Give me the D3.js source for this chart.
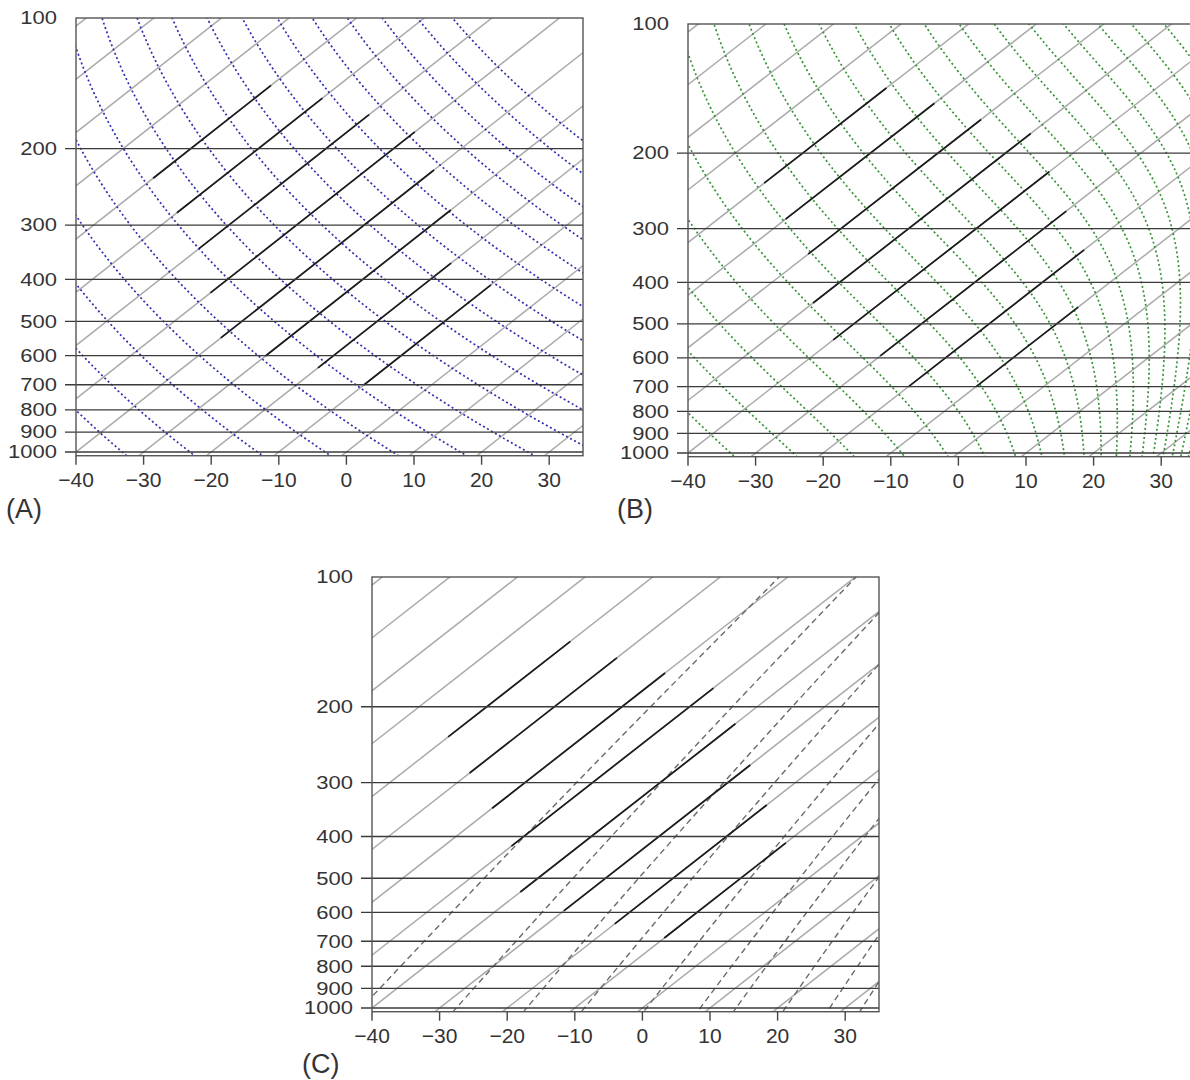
<!DOCTYPE html>
<html>
<head>
<meta charset="utf-8">
<script src="https://cdn.jsdelivr.net/npm/d3@7"></script>
<style>
  body { margin: 0; background: #fff; }
  text { font-family: "Liberation Sans", Arial, sans-serif; fill: #333; }
</style>
</head>
<body>
<svg id="chart" width="1190" height="1080"></svg>
<script>
// ---- chart data ----
var pressureLevels = [100, 200, 300, 400, 500, 600, 700, 800, 900, 1000];
var tempTicks = [-40, -30, -20, -10, 0, 10, 20, 30];
var isothermTemps = [-140, -130, -120, -110, -100, -90, -80, -70, -60, -50, -40, -30, -20, -10, 0, 10, 20, 30];
// dry adiabats, potential temperature (K)
var dryThetas = [240, 250, 260, 270, 280, 290, 300, 310, 320, 330, 340, 350, 360, 370, 380, 390, 400];
// saturated adiabats, labelled by theta reached aloft (K)
var moistThetas = [240, 250, 260, 270, 280, 290, 300, 310, 320, 330, 340, 350, 360, 370, 380, 390, 400, 410, 420, 430, 440, 450];
// saturation mixing ratio lines (g/kg)
var mixRatios = [0.1, 0.4, 1, 2, 4, 7, 10, 16, 24, 32];
// highlighted isotherm segments: temperature, lower and upper pressure (hPa) per panel
var darkTemps = [-80, -70, -60, -50, -40, -30, -20, -10];
var darkBottomA = [234, 281, 340, 430, 546, 601, 640, 701];
var darkTopA = [143, 153, 167, 183, 224, 277, 367, 412];
var darkBottomB = [235, 285, 344, 447, 545, 594, 700, 700];
var darkTopB = [141, 153, 167, 180, 221, 273, 336, 457];
var darkBottomC = [235, 285, 344, 421, 538, 595, 638, 688];
var darkTopC = [141, 154, 167, 181, 219, 273, 338, 414];

var panelNames = ["(A)", "(B)", "(C)"];
var panelKinds = ["dry", "moist", "mix"];
var panelBottoms = [darkBottomA, darkBottomB, darkBottomC];
var panelTops = [darkTopA, darkTopB, darkTopC];

// ---- layout ----
var layout = [
  { left: 76, right: 583, top: 18, y1000: 452, labelX: 6, labelY: 518 },
  { left: 688, right: 1195, top: 24, y1000: 453, labelX: 617, labelY: 518 },
  { left: 372, right: 879, top: 577, y1000: 1008, labelX: 302, labelY: 1073 }
];
var skew = 35.4;       // deg C shift per unit of ln(p)
var pBottom = 1020;

// constants
var Rd = 287.04, cp = 1005.7, Lv = 2.501e6, eps = 0.622;

function satVap(Tk) {
    return 6.112 * Math.exp(17.67 * (Tk - 273.15) / (Tk - 29.65));
}

var samplePs = [];
for (var k = 0; k <= 160; k++) {
    samplePs.push(85 * Math.pow(1100 / 85, k / 160));
}

function dryCurve(theta) {
    return samplePs.map(function (p) { return [theta * Math.pow(p / 1000, Rd / cp) - 273.15, p]; });
}

function moistRate(T, lnp) {
    var p = Math.exp(lnp);
    var es = satVap(T);
    var rs = eps * es / (p - es);
    return (Rd * T + Lv * rs) / (cp + Lv * Lv * rs * eps / (Rd * T * T));
}

function moistCurve(theta) {
    var lnp = Math.log(20), n = 700, h = (Math.log(1100) - lnp) / n;
    var T = theta * Math.pow(20 / 1000, Rd / cp);
    var pts = [];
    for (var k = 0; k <= n; k++) {
        var p = Math.exp(lnp);
        if (p >= 85) pts.push([T - 273.15, p]);
        if (k === n) break;
        var k1 = moistRate(T, lnp);
        var k2 = moistRate(T + h / 2 * k1, lnp + h / 2);
        var k3 = moistRate(T + h / 2 * k2, lnp + h / 2);
        var k4 = moistRate(T + h * k3, lnp + h);
        T += h / 6 * (k1 + 2 * k2 + 2 * k3 + k4);
        lnp += h;
    }
    return pts;
}

function mixCurve(w) {
    var r = w / 1000;
    return samplePs.map(function (p) {
        var es = r * p / (eps + r);
        var L = Math.log(es / 6.112);
        return [243.5 * L / (17.67 - L), p];
    });
}

var svg = d3.select("#chart");

layout.forEach(function (P, i) {
    var x = d3.scaleLinear().domain([-40, 35]).range([P.left, P.right]);
    var y = d3.scaleLog().domain([100, 1000]).range([P.top, P.y1000]);
    var yBot = y(pBottom);
    function sx(T, p) { return x(T + skew * Math.log(1000 / p)); }
    var line = d3.line()
        .x(function (d) { return sx(d[0], d[1]); })
        .y(function (d) { return y(d[1]); });

    var g = svg.append("g");
    g.append("clipPath").attr("id", "clip" + i)
        .append("rect")
        .attr("x", P.left).attr("y", P.top)
        .attr("width", P.right - P.left).attr("height", yBot - P.top);
    var inner = g.append("g").attr("clip-path", "url(#clip" + i + ")");

    // gray isotherms
    inner.selectAll(".iso").data(isothermTemps).enter().append("path")
        .attr("d", function (T) { return line([[T, 1100], [T, 85]]); })
        .attr("fill", "none").attr("stroke", "#aaaaaa").attr("stroke-width", 1.5);

    // panel specific family
    var kind = panelKinds[i];
    if (kind === "dry") {
        inner.selectAll(".dry").data(dryThetas).enter().append("path")
            .attr("d", function (th) { return line(dryCurve(th)); })
            .attr("fill", "none").attr("stroke", "#2f2fb0").attr("stroke-width", 1.7)
            .attr("stroke-dasharray", "2,2.6");
    } else if (kind === "moist") {
        inner.selectAll(".moist").data(moistThetas).enter().append("path")
            .attr("d", function (th) { return line(moistCurve(th)); })
            .attr("fill", "none").attr("stroke", "#369436").attr("stroke-width", 1.7)
            .attr("stroke-dasharray", "2,2.6");
    } else {
        inner.selectAll(".mix").data(mixRatios).enter().append("path")
            .attr("d", function (w) { return line(mixCurve(w)); })
            .attr("fill", "none").attr("stroke", "#6a6a6a").attr("stroke-width", 1.4)
            .attr("stroke-dasharray", "6,4");
    }

    // highlighted isotherm segments
    var pb = panelBottoms[i], pt = panelTops[i];
    inner.selectAll(".dark").data(darkTemps).enter().append("path")
        .attr("d", function (T, j) { return line([[T, pb[j]], [T, pt[j]]]); })
        .attr("fill", "none").attr("stroke", "#1a1a1a").attr("stroke-width", 1.7);

    // isobars
    g.selectAll(".isobar").data(pressureLevels.slice(1)).enter().append("line")
        .attr("x1", P.left - 11).attr("x2", P.right)
        .attr("y1", function (p) { return y(p); }).attr("y2", function (p) { return y(p); })
        .attr("stroke", "#3a3a3a").attr("stroke-width", 1.3);

    // frame
    g.append("rect")
        .attr("x", P.left).attr("y", P.top)
        .attr("width", P.right - P.left).attr("height", yBot - P.top)
        .attr("fill", "none").attr("stroke", "#555").attr("stroke-width", 1.4);

    // x ticks and labels
    g.selectAll(".xt").data(tempTicks).enter().append("line")
        .attr("x1", function (t) { return x(t); }).attr("x2", function (t) { return x(t); })
        .attr("y1", yBot).attr("y2", yBot + 9)
        .attr("stroke", "#444").attr("stroke-width", 1.4);
    g.selectAll(".xl").data(tempTicks).enter().append("text")
        .attr("x", function (t) { return x(t); })
        .attr("y", yBot + 31)
        .attr("text-anchor", "middle")
        .attr("font-size", 21)
        .text(function (t) { return t < 0 ? "\u2212" + Math.abs(t) : String(t); });

    // y labels (slightly squashed like the original)
    g.selectAll(".yl").data(pressureLevels).enter().append("text")
        .attr("transform", function (p) { return "translate(" + (P.left - 19) + "," + y(p) + ") scale(1,0.8)"; })
        .attr("y", 7.9)
        .attr("text-anchor", "end")
        .attr("font-size", 22)
        .text(function (p) { return p; });

    // panel letter
    g.append("text")
        .attr("x", P.labelX).attr("y", P.labelY)
        .attr("font-size", 27)
        .text(panelNames[i]);
});
</script>
</body>
</html>
